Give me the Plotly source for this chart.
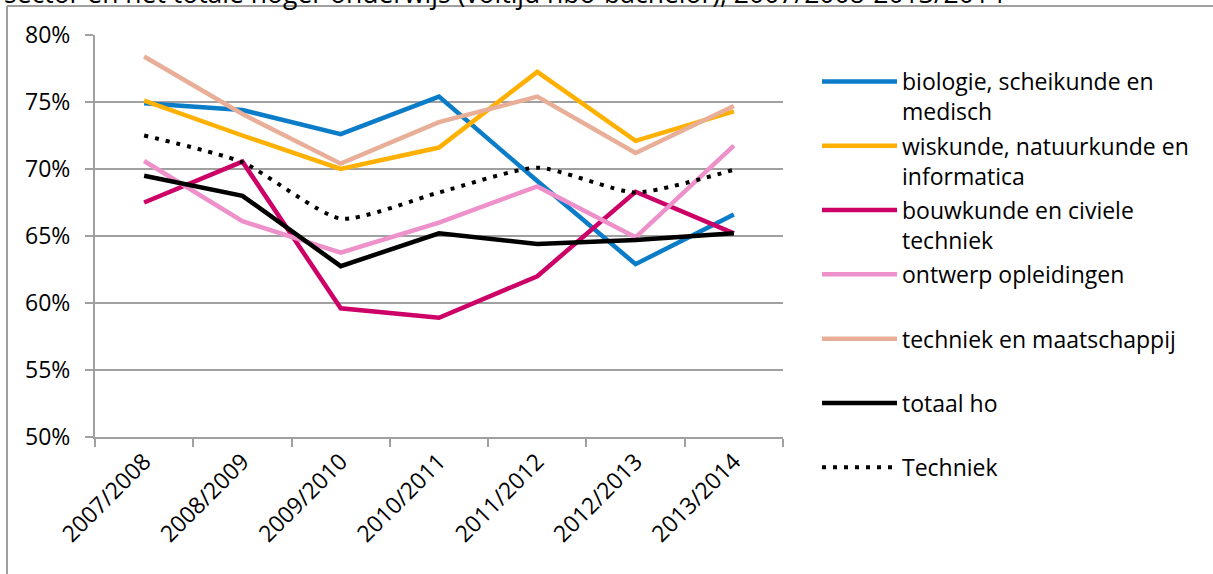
import plotly.graph_objects as go

years = ["2007/2008", "2008/2009", "2009/2010", "2010/2011", "2011/2012", "2012/2013", "2013/2014"]

biologie = [74.9, 74.4, 72.6, 75.4, 69.1, 62.9, 66.6]
wiskunde = [75.1, 72.5, 70.0, 71.6, 77.25, 72.1, 74.3]
bouwkunde = [67.5, 70.55, 59.6, 58.9, 62.0, 68.3, 65.2]
ontwerp = [70.6, 66.1, 63.75, 66.0, 68.7, 64.9, 71.75]
maatschappij = [78.4, 74.1, 70.4, 73.5, 75.4, 71.2, 74.7]
totaal_ho = [69.5, 68.0, 62.75, 65.2, 64.4, 64.7, 65.2]
techniek = [72.5, 70.5, 66.3, 68.25, 70.1, 68.25, 69.95]

y_ticks = [50, 55, 60, 65, 70, 75, 80]
y_tick_labels = ["50%", "55%", "60%", "65%", "70%", "75%", "80%"]

NB = "\u00a0"
series = [
    ("biologie, scheikunde en<br>medisch", biologie, "#0B7CC8", "solid", "linear"),
    ("wiskunde, natuurkunde en<br>informatica", wiskunde, "#FFB000", "solid", "linear"),
    ("bouwkunde en civiele<br>techniek", bouwkunde, "#CC0066", "solid", "linear"),
    ("ontwerp opleidingen<br>" + NB, ontwerp, "#EE90CA", "solid", "linear"),
    ("techniek en maatschappij<br>" + NB, maatschappij, "#E8AE98", "solid", "linear"),
    ("totaal ho<br>" + NB, totaal_ho, "#000000", "solid", "linear"),
    ("Techniek<br>" + NB, techniek, "#000000", "4px,7px", "spline"),
]

FONT = "Open Sans"
FS = 23

fig = go.Figure()
for i, (name, vals, color, dash, shape) in enumerate(series):
    fig.add_trace(go.Scatter(
        x=years, y=vals, name=name, mode="lines",
        line=dict(color=color, width=4.5 if dash == "solid" else 4, dash=dash,
                  shape=shape, smoothing=0.6 if shape == "spline" else None),
        legendgroup=str(i),
    ))

# outer frame of the chart object (left and top edges visible)
PX = lambda px: (px - 95) / 688
PY = lambda py: (437 - py) / 402
fig.add_shape(type="line", xref="paper", yref="paper",
              x0=PX(7), x1=PX(1230), y0=PY(6), y1=PY(6),
              line=dict(color="#a0a0a0", width=2), layer="above")
fig.add_shape(type="line", xref="paper", yref="paper",
              x0=PX(7), x1=PX(7), y0=PY(6), y1=PY(600),
              line=dict(color="#a0a0a0", width=2), layer="above")

# clipped title remnant at the very top
fig.add_annotation(
    text="sector en het totale hoger onderwijs (voltijd hbo-bachelor), 2007/2008-2013/2014",
    xref="paper", yref="paper", x=PX(2), y=PY(13),
    xanchor="left", yanchor="bottom", showarrow=False,
    font=dict(family=FONT, size=26.5, color="#000000"),
)

fig.update_layout(
    width=1213, height=574,
    margin=dict(l=95, r=1213 - 783, t=35, b=574 - 437),
    paper_bgcolor="#ffffff", plot_bgcolor="#ffffff",
    font=dict(family=FONT, size=FS, color="#000000"),
    showlegend=True,
    legend=dict(
        x=PX(817), xanchor="left",
        y=PY(60), yanchor="top",
        valign="top", traceorder="grouped", tracegroupgap=1.5,
        itemwidth=75, maxheight=560,
        font=dict(family=FONT, size=FS, color="#000000"),
        bgcolor="rgba(0,0,0,0)", borderwidth=0,
    ),
    xaxis=dict(
        type="category", range=[-0.5, 6.5], tickangle=-45,
        showline=True, linecolor="#a0a0a0", linewidth=2,
        ticks="outside", ticklen=8, tickcolor="#a0a0a0", tickwidth=2,
        tickson="boundaries", showgrid=False, zeroline=False,
        tickfont=dict(family=FONT, size=FS, color="#000000"),
    ),
    yaxis=dict(
        range=[50, 80], tickvals=y_ticks, ticktext=y_tick_labels,
        showline=True, linecolor="#a0a0a0", linewidth=2,
        ticks="outside", ticklen=8, tickcolor="#a0a0a0", tickwidth=2,
        showgrid=True, gridcolor="#a0a0a0", gridwidth=2, zeroline=False,
        ticklabelstandoff=10,
        tickfont=dict(family=FONT, size=FS, color="#000000"),
    ),
)

fig.write_html("out.html", config={"displayModeBar": False},
               post_script="document.body.style.margin='0';")
